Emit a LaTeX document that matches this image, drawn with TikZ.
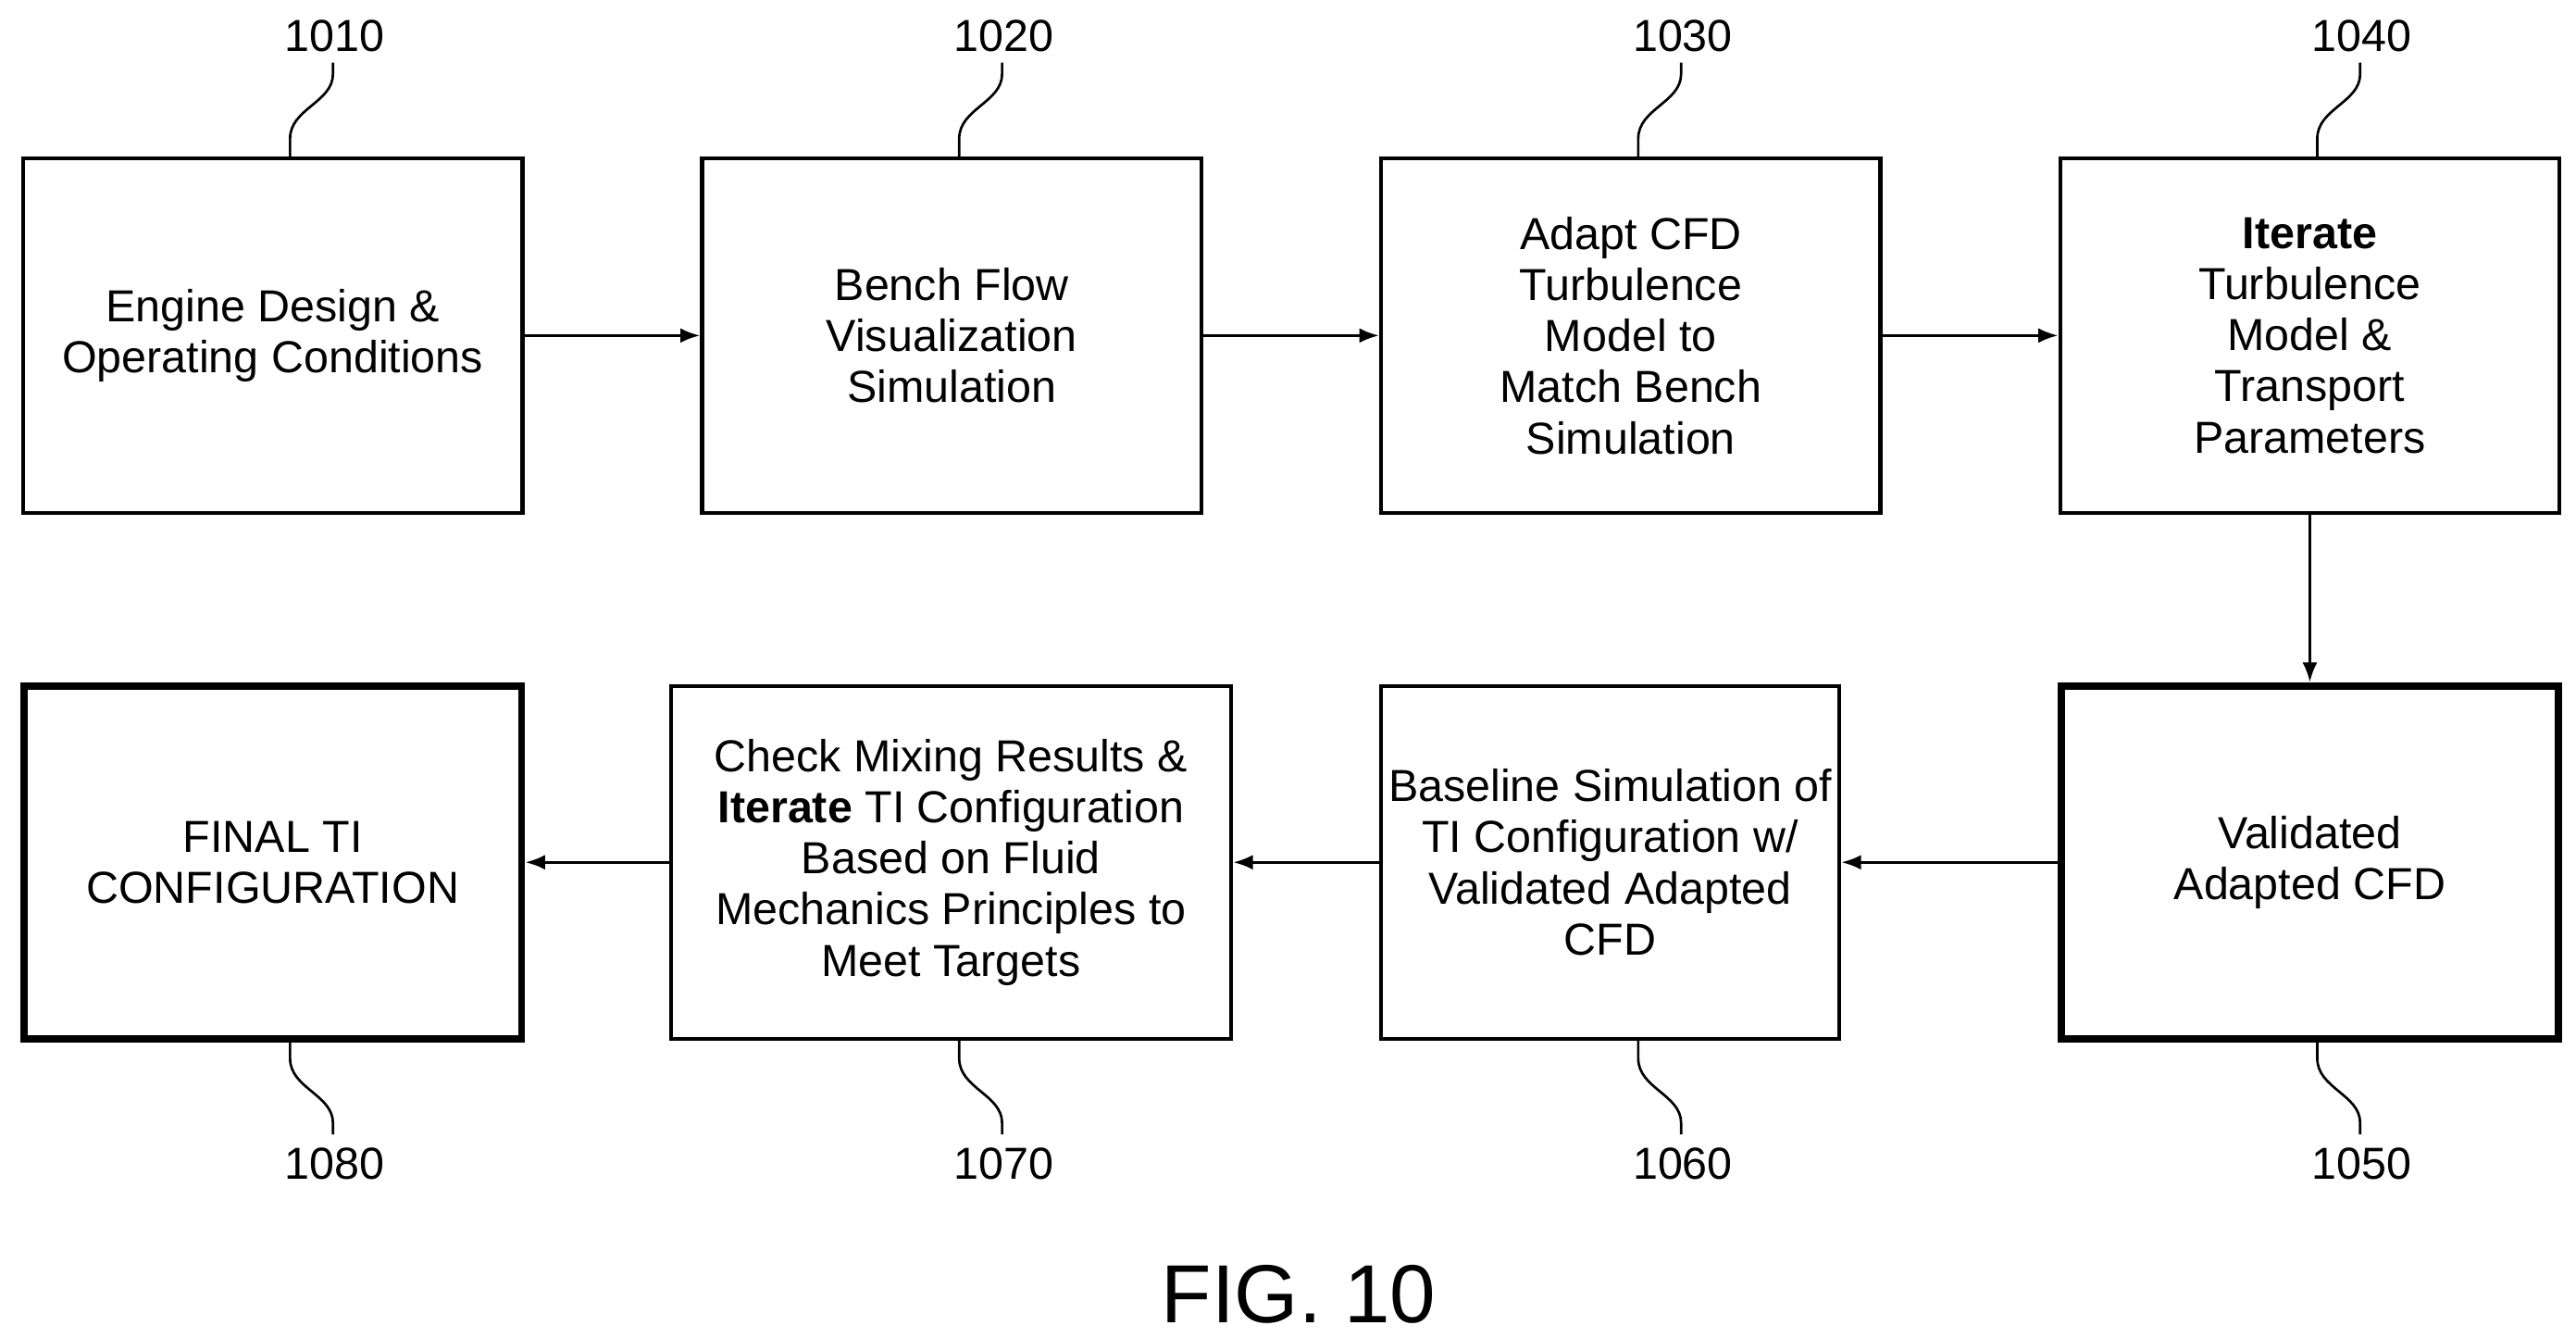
\documentclass[tikz,border=0pt]{standalone}
\usepackage{fontspec}
\setmainfont{Liberation Sans}
\tikzset{every picture/.style={line width=0.75pt}}
\tikzset{
  blk/.style={draw, line width=1.2pt, align=center, font=\fontsize{13.6}{15.5}\selectfont, inner sep=0pt},
  blkb/.style={blk, line width=2.2pt},
  refn/.style={font=\fontsize{13.6}{15}\selectfont},
  arr/.style={-{Latex[length=6pt,width=4.5pt]}, line width=0.9pt}
}
\usetikzlibrary{arrows.meta}
\begin{document}
\begin{tikzpicture}[x=0.5pt,y=0.5pt,yscale=-1,xscale=1]
	\useasboundingbox (0,0) rectangle (1563,811);

	% Blocks, top row
	\node [blk, minimum width=151.5pt, minimum height=107.5pt] (b1010) at (165.5,203.5) {Engine Design \&\\Operating Conditions};
	\node [blk, minimum width=151.5pt, minimum height=107.5pt] (b1020) at (577.5,203.5) {Bench Flow\\Visualization\\Simulation};
	\node [blk, minimum width=151.5pt, minimum height=107.5pt] (b1030) at (989.5,203.5) {Adapt CFD\\Turbulence\\Model to\\Match Bench\\Simulation};
	\node [blk, minimum width=151.5pt, minimum height=107.5pt] (b1040) at (1401.5,203.5) {\textbf{Iterate}\\Turbulence\\Model \&\\Transport\\Parameters};
	% Blocks, bottom row
	\node [blkb, minimum width=151pt, minimum height=107pt] (b1050) at (1401.5,523) {Validated\\Adapted CFD};
	\node [blk, minimum width=139pt, minimum height=107pt] (b1060) at (977,523) {Baseline Simulation of\\TI Configuration w/\\Validated Adapted\\CFD};
	\node [blk, minimum width=170pt, minimum height=107pt] (b1070) at (577,523) {Check Mixing Results \&\\\textbf{Iterate} TI Configuration\\Based on Fluid\\Mechanics Principles to\\Meet Targets};
	\node [blkb, minimum width=151pt, minimum height=107pt] (b1080) at (165.5,523) {FINAL TI\\CONFIGURATION};

	% Connectors
	\draw [arr] (b1010) -- (b1020);
	\draw [arr] (b1020) -- (b1030);
	\draw [arr] (b1030) -- (b1040);
	\draw [arr] (b1040) -- (b1050);
	\draw [arr] (b1050) -- (b1060);
	\draw [arr] (b1060) -- (b1070);
	\draw [arr] (b1070) -- (b1080);

	% Reference numerals, top
	\foreach \n/\x in {1010/176,1020/582,1030/994,1040/1406}{
		\node [refn] (r\n) at (\x+27,22) {\n};
		\draw (\x,95) -- (\x,84) .. controls (\x,66) and (\x+26,62) .. (\x+26,45) -- (\x+26,38);
	}
	% Reference numerals, bottom
	\foreach \n/\x in {1050/1406,1060/994,1070/582,1080/176}{
		\node [refn] (r\n) at (\x+27,706) {\n};
		\draw (\x,631) -- (\x,642) .. controls (\x,660) and (\x+26,664) .. (\x+26,681) -- (\x+26,688);
	}

	% Caption
	\node [font=\fontsize{25}{27}\selectfont] (fig) at (788,785) {FIG. 10};
\end{tikzpicture}
\end{document}
